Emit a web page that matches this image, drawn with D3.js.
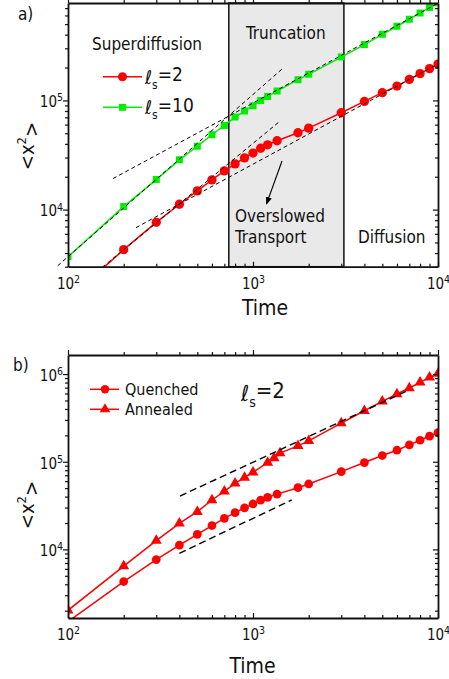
<!DOCTYPE html>
<html>
<head>
<meta charset="utf-8">
<script src="https://cdn.jsdelivr.net/npm/d3@7"></script>
<style>
body { margin: 0; background: #fff; }
svg { display: block; }
text { font-family: "DejaVu Sans Condensed", "DejaVu Sans", sans-serif; fill: #111; }
</style>
</head>
<body>
<script>
// ---- data ----
var time = [100, 200, 300, 400, 500, 600, 700, 800, 900, 1000, 1100, 1200, 1350, 1750, 2000,
            3000, 4000, 5000, 6000, 7000, 8000, 9000, 10000];
// l_s = 2 (quenched)
var ls2 = [1500, 4300, 7650, 11190, 14840, 18720, 22640, 26250, 29780, 32960, 36480, 39230, 42700,
           50550, 55730, 77090, 97900, 117700, 135300, 155900, 175800, 195500, 215000];
// l_s = 10
var ls10 = [3705, 10650, 18840, 28580, 38100, 48460, 58980, 70330, 79800, 89400, 100000, 108800,
            121700, 155000, 173200, 249500, 324300, 403200, 477500, 553500, 632400, 708500, 783000];
// annealed, l_s = 2
var timeAnn = [100, 200, 300, 400, 500, 600, 700, 800, 900, 1000, 1200, 1300, 1400, 1750, 2000,
               3000, 4000, 5000, 6000, 7000, 8000, 9000, 10000];
var annealed = [2020, 6440, 12570, 19820, 26900, 36600, 46000, 56800, 65900, 75900, 97800, 110000,
                125300, 151800, 173000, 275600, 381700, 488000, 592000, 693000, 804000, 916000, 1010000];

// truncation window (time)
var truncation = [740, 3100];

// guide lines, panel a: [t0, t1], [v0, v1]
var guideSuper10 = [[88, 1450], [3060, 196700]];
var guideDiff10  = [[175, 10000], [19240, 776000]];
var guideSuper2  = [[153, 1400], [2960, 64600]];
var guideDiff2   = [[233, 10000], [6835, 216000]];
// guide lines, panel b
var guideAnn   = [[403, 6790], [40600, 641000]];
var guideQuench = [[400, 1618], [9030, 36600]];

var red = "#ff0000", green = "#00ee00";

var width = 449, height = 679;
var svg = d3.select("body").append("svg")
  .attr("width", width)
  .attr("height", height);

var defs = svg.append("defs");
defs.append("marker")
  .attr("id", "arrow")
  .attr("viewBox", "0 0 10 10")
  .attr("refX", 9).attr("refY", 5)
  .attr("markerWidth", 7).attr("markerHeight", 7)
  .attr("orient", "auto")
  .append("path").attr("d", "M0,1 L10,5 L0,9 Z").attr("fill", "#000");

var x = d3.scaleLog().domain([100, 10000]).range([68, 438]);
var yA = d3.scaleLog().domain([3000, 7.8e5]).range([266.7, 3]);
var yB = d3.scaleLog().domain([1650, 1.65e6]).range([618, 355]);

function clip(id, y) {
  defs.append("clipPath").attr("id", id).append("rect")
    .attr("x", x.range()[0]).attr("y", y.range()[1])
    .attr("width", x.range()[1] - x.range()[0])
    .attr("height", y.range()[0] - y.range()[1]);
}
clip("clipA", yA);
clip("clipB", yB);

function isMajor(d) {
  var l = Math.log10(d);
  return Math.abs(l - Math.round(l)) < 1e-6;
}

function powLabel(sel) {
  sel.each(function(d) {
    var t = d3.select(this).text(null);
    if (!isMajor(d)) return;
    t.append("tspan").text("10");
    t.append("tspan").attr("dy", "-0.55em").style("font-size", "10.5px").text(Math.round(Math.log10(d)));
  });
}

function drawAxes(y) {
  var x0 = x.range()[0], x1 = x.range()[1], ybot = y.range()[0], ytop = y.range()[1];
  var axes = [
    {ax: d3.axisBottom(x).tickValues(x.ticks()), tr: "translate(0," + ybot + ")", lab: true, v: true},
    {ax: d3.axisTop(x).tickValues(x.ticks()), tr: "translate(0," + ytop + ")", lab: false, v: true},
    {ax: d3.axisLeft(y).tickValues(y.ticks()), tr: "translate(" + x0 + ",0)", lab: true, v: false},
    {ax: d3.axisRight(y).tickValues(y.ticks()), tr: "translate(" + x1 + ",0)", lab: false, v: false}
  ];
  axes.forEach(function(a) {
    var g = svg.append("g").attr("transform", a.tr)
      .call(a.ax.tickSizeInner(-5).tickSizeOuter(0).tickPadding(a.v ? 11.5 : 5));
    g.select(".domain").attr("stroke", "#111").attr("stroke-width", 1.8);
    g.selectAll(".tick line").attr("stroke", "#111").attr("stroke-width", 1.2)
      .attr(a.v ? "y2" : "x2", function(d) { return isMajor(d) ? -5 : -3; });
    if (a.lab) {
      g.selectAll(".tick text").style("font-size", "15px").attr("fill", "#111").call(powLabel);
      if (!a.v) g.selectAll(".tick text").attr("dy", "0.42em");
    } else {
      g.selectAll(".tick text").remove();
    }
  });
}

function lineOf(y) {
  return d3.line().x(function(d) { return x(d[0]); }).y(function(d) { return y(d[1]); });
}

function drawLine(g, y, ts, vs, color) {
  g.append("path").datum(ts.map(function(t, i) { return [t, vs[i]]; }))
    .attr("d", lineOf(y))
    .attr("fill", "none").attr("stroke", color).attr("stroke-width", 1.5);
}

function drawMarkers(g, y, ts, vs, color, shape, size) {
  g.selectAll(null).data(ts.map(function(t, i) { return [t, vs[i]]; })).enter()
    .append("path")
    .attr("transform", function(d) { return "translate(" + x(d[0]) + "," + y(d[1]) + ")"; })
    .attr("d", d3.symbol(shape, size))
    .attr("fill", color);
}

function drawGuide(g, y, guide, dash, w) {
  g.append("path").datum([[guide[0][0], guide[1][0]], [guide[0][1], guide[1][1]]])
    .attr("d", lineOf(y))
    .attr("fill", "none").attr("stroke", "#000")
    .attr("stroke-width", w).attr("stroke-dasharray", dash);
}

function label(xp, yp, str, size) {
  return svg.append("text").attr("x", xp).attr("y", yp).style("font-size", size + "px").text(str);
}

function yTitle(xp, yp) {
  var t = svg.append("text").attr("transform", "translate(" + xp + "," + yp + ") rotate(-90)")
    .attr("text-anchor", "middle").style("font-size", "20px");
  t.append("tspan").text("<x");
  t.append("tspan").attr("dy", "-0.6em").style("font-size", "13px").text("2");
  t.append("tspan").attr("dy", "0.6em").text(">");
}

function lsText(xp, yp, val, size) {
  var t = svg.append("text").attr("x", xp).attr("y", yp).style("font-size", size + "px");
  t.append("tspan").text("\u2113");
  t.append("tspan").attr("dy", "0.4em").style("font-size", Math.round(size * 0.65) + "px").text("s");
  t.append("tspan").attr("dy", "-0.4em").text("=" + val);
}

// ================= panel a =================
svg.append("rect")
  .attr("x", x(truncation[0])).attr("y", yA.range()[1])
  .attr("width", x(truncation[1]) - x(truncation[0]))
  .attr("height", yA.range()[0] - yA.range()[1])
  .attr("fill", "#e9e9e9").attr("stroke", "#111").attr("stroke-width", 1.5);

var gA = svg.append("g").attr("clip-path", "url(#clipA)");
drawLine(gA, yA, time, ls2, red);
drawLine(gA, yA, time, ls10, green);

var gGuideA = svg.append("g");
drawGuide(gGuideA, yA, guideSuper10, "4,3", 1);
drawGuide(gGuideA, yA, guideDiff10, "4,3", 1);
drawGuide(gGuideA, yA, guideSuper2, "4,3", 1);
drawGuide(gGuideA, yA, guideDiff2, "4,3", 1);

drawMarkers(gA, yA, time, ls2, red, d3.symbolCircle, 68);
drawMarkers(gA, yA, time, ls10, green, d3.symbolSquare, 49);

drawAxes(yA);

label(18, 20, "a)", 17);
label(92, 50, "Superdiffusion", 17);
label(246, 39, "Truncation", 17);
label(235, 222, "Overslowed", 17);
label(235, 243, "Transport", 17);
label(358, 243, "Diffusion", 17);

svg.append("line").attr("x1", 282).attr("y1", 161).attr("x2", 266.5).attr("y2", 204)
  .attr("stroke", "#000").attr("stroke-width", 1.1).attr("marker-end", "url(#arrow)");

// legend a
var legA = [{c: red, s: d3.symbolCircle, z: 64, y: 76.7, v: "2"},
            {c: green, s: d3.symbolSquare, z: 49, y: 107.3, v: "10"}];
legA.forEach(function(l) {
  svg.append("line").attr("x1", 103).attr("x2", 142).attr("y1", l.y).attr("y2", l.y)
    .attr("stroke", l.c).attr("stroke-width", 1.5);
  svg.append("path").attr("transform", "translate(122.5," + l.y + ")")
    .attr("d", d3.symbol(l.s, l.z)).attr("fill", l.c);
  lsText(145, l.y + 7, l.v, 19);
});

yTitle(34, 146);
label(265, 315, "Time", 21).attr("text-anchor", "middle");

// ================= panel b =================
var gB = svg.append("g").attr("clip-path", "url(#clipB)");
drawLine(gB, yB, time, ls2, red);
drawLine(gB, yB, timeAnn, annealed, red);

var gGuideB = svg.append("g");
drawGuide(gGuideB, yB, guideAnn, "7,4", 1.4);
drawGuide(gGuideB, yB, guideQuench, "7,4", 1.4);

drawMarkers(gB, yB, time, ls2, red, d3.symbolCircle, 60);
drawMarkers(gB, yB, timeAnn, annealed, red, d3.symbolTriangle, 52);

drawAxes(yB);

label(13, 371, "b)", 17);
lsText(241, 401, "2", 22);

var legB = [{s: d3.symbolCircle, z: 56, y: 389.3, t: "Quenched"},
            {s: d3.symbolTriangle, z: 48, y: 409.3, t: "Annealed"}];
legB.forEach(function(l) {
  svg.append("line").attr("x1", 90).attr("x2", 119).attr("y1", l.y).attr("y2", l.y)
    .attr("stroke", red).attr("stroke-width", 1.5);
  svg.append("path").attr("transform", "translate(105," + l.y + ")")
    .attr("d", d3.symbol(l.s, l.z)).attr("fill", red);
  label(125, l.y + 5.5, l.t, 16);
});

yTitle(34, 505);
label(252.5, 673, "Time", 21).attr("text-anchor", "middle");
</script>
</body>
</html>
